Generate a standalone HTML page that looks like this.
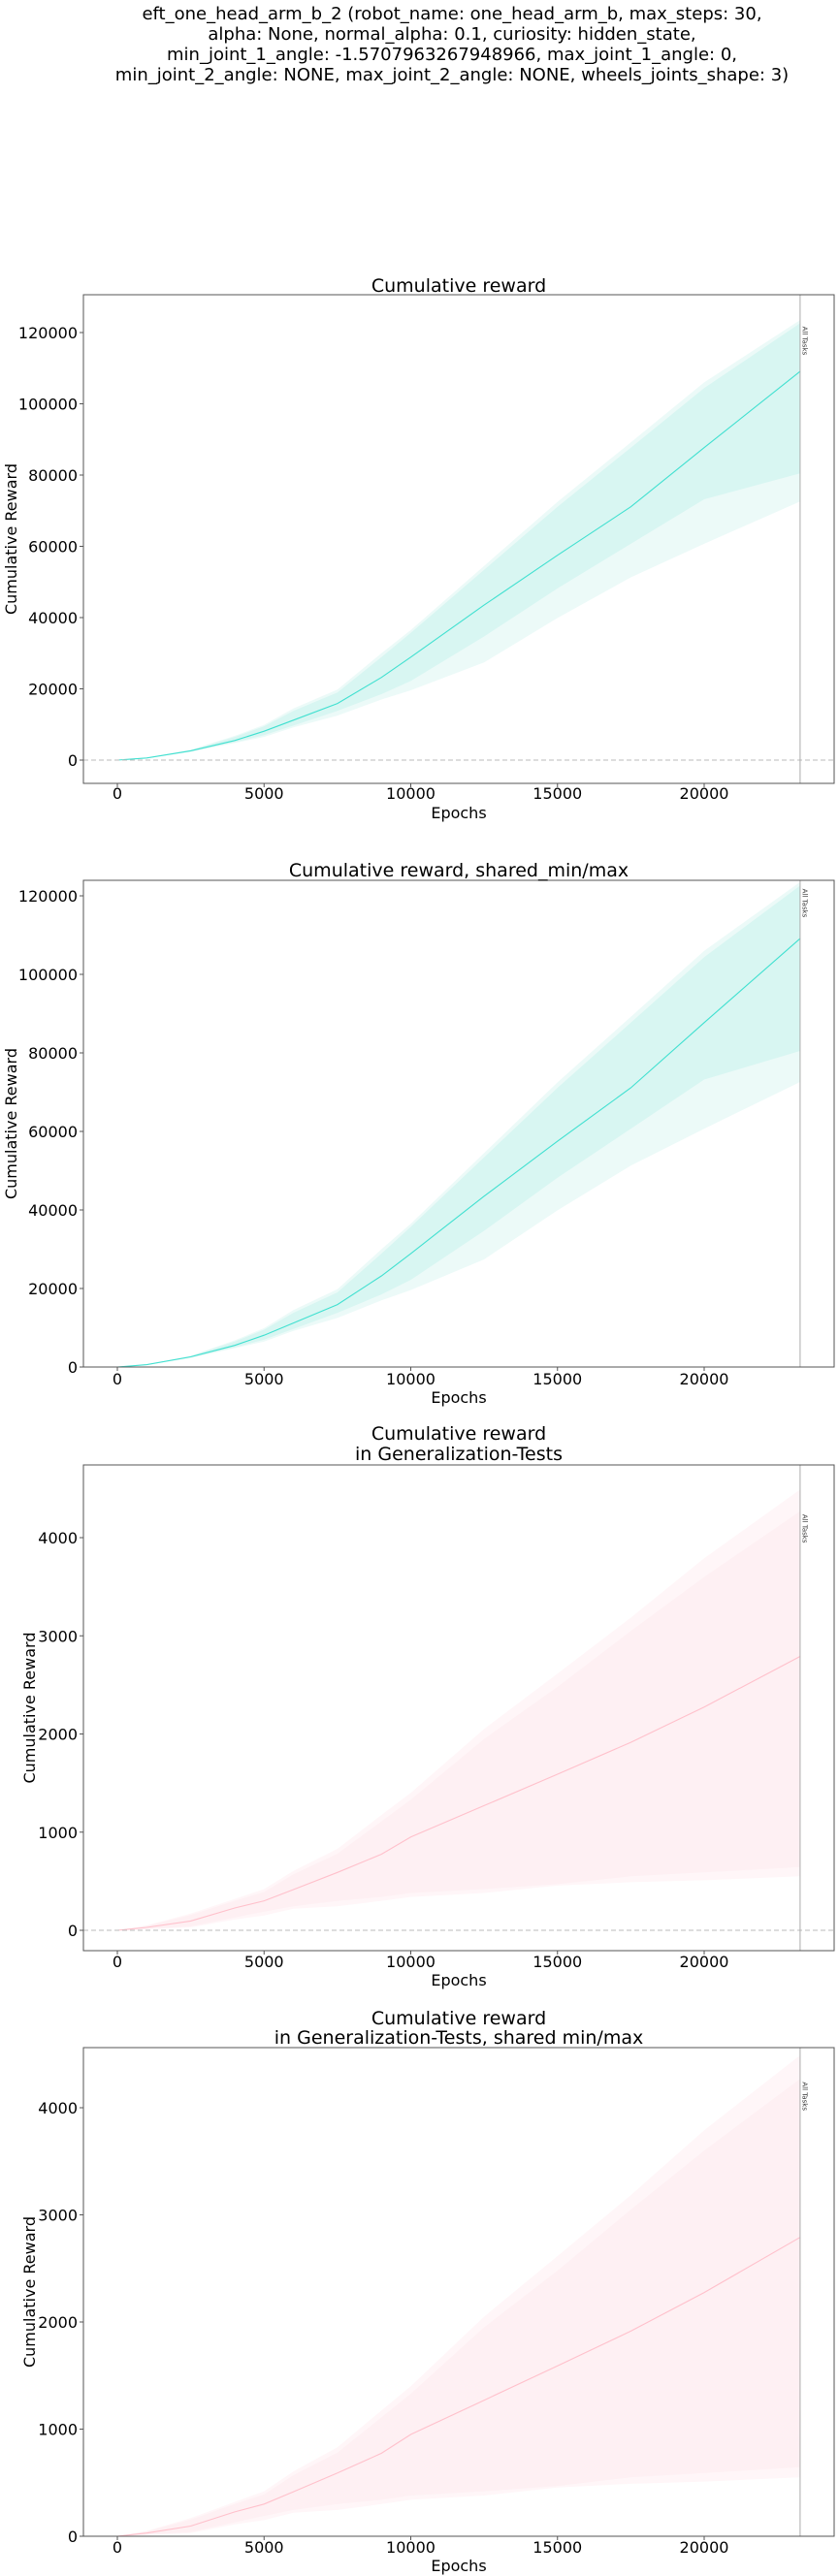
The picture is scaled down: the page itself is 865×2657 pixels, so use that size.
<!DOCTYPE html>
<html><head><meta charset="utf-8">
<style>
html,body{margin:0;padding:0;background:#fff;}
svg{display:block;font-family:"DejaVu Sans","Liberation Sans",sans-serif;}
</style></head>
<body>
<svg id="fig" width="865" height="2657" viewBox="0 0 865 2657" xmlns="http://www.w3.org/2000/svg">
<g font-size="18" text-anchor="middle" fill="#000">
<text x="466" y="20">eft_one_head_arm_b_2 (robot_name: one_head_arm_b, max_steps: 30,</text>
<text x="466" y="41">alpha: None, normal_alpha: 0.1, curiosity: hidden_state,</text>
<text x="466" y="62">min_joint_1_angle: -1.5707963267948966, max_joint_1_angle: 0,</text>
<text x="466" y="83">min_joint_2_angle: NONE, max_joint_2_angle: NONE, wheels_joints_shape: 3)</text>
</g>
</svg>
<script>
// ---- data ----
const epochs = [0, 1000, 2500, 4000, 5000, 6000, 7500, 9000, 10000, 12500, 15000, 17500, 20000, 23270];
const trainMean = [0, 600, 2600, 5500, 8100, 11200, 15900, 23200, 28900, 43500, 57500, 71100, 87700, 109100];
const trainInnerUpper = [0, 650, 2800, 6500, 9500, 13800, 19000, 28900, 35700, 53400, 71100, 87700, 104400, 122600];
const trainOuterUpper = [0, 700, 2900, 6800, 9900, 14500, 19800, 30000, 36500, 54500, 72500, 89200, 106000, 123500];
const trainInnerLower = [0, 550, 2400, 5000, 7000, 9700, 13800, 18500, 22200, 34700, 48200, 60700, 73200, 80500];
const trainOuterLower = [0, 500, 2300, 4800, 6500, 9200, 12500, 17000, 19600, 27400, 39900, 51300, 60700, 72600];
const genMean = [0, 30, 95, 227, 300, 415, 590, 775, 950, 1270, 1590, 1915, 2275, 2790];
const genInnerUpper = [0, 45, 155, 300, 390, 570, 780, 1110, 1330, 1950, 2480, 3050, 3600, 4270];
const genOuterUpper = [0, 50, 170, 320, 420, 605, 830, 1175, 1400, 2050, 2615, 3185, 3790, 4490];
const genInnerLower = [0, 15, 40, 130, 190, 245, 300, 340, 380, 420, 470, 550, 590, 645];
const genOuterLower = [0, 10, 30, 110, 150, 220, 245, 300, 340, 380, 455, 490, 510, 550];
const xTicks = [0, 5000, 10000, 15000, 20000];
const trainYTicks = [0, 20000, 40000, 60000, 80000, 100000, 120000];
const genYTicks = [0, 1000, 2000, 3000, 4000];
const markerEpoch = 23270;

const NS = "http://www.w3.org/2000/svg";
const svg = document.getElementById("fig");
function mk(tag, attrs, parent) {
  const e = document.createElementNS(NS, tag);
  for (const k in attrs) e.setAttribute(k, attrs[k]);
  (parent || svg).appendChild(e);
  return e;
}
const X0 = 86, X1 = 860;
function xScale(e) { return 121 + e * 605 / 20000; }

const panels = [
  {name:"cumulative-reward", titles:["Cumulative reward"], titleY:[301], top:304, bottom:808, zeroY:784, topVal:120000, topY:343,
   yTicks:trainYTicks, mean:trainMean, iu:trainInnerUpper, ou:trainOuterUpper, il:trainInnerLower, ol:trainOuterLower,
   line:"#40e0d0", inner:"#d8f6f2", outer:"#ecfaf8", dashed:true, ylabelX:11, tickY:824, epochsY:844},
  {name:"cumulative-reward-shared", titles:["Cumulative reward, shared_min/max"], titleY:[904], top:908, bottom:1410, zeroY:1410, topVal:120000, topY:924,
   yTicks:trainYTicks, mean:trainMean, iu:trainInnerUpper, ou:trainOuterUpper, il:trainInnerLower, ol:trainOuterLower,
   line:"#40e0d0", inner:"#d8f6f2", outer:"#ecfaf8", dashed:false, ylabelX:11, tickY:1428, epochsY:1447},
  {name:"generalization-reward", titles:["Cumulative reward","in Generalization-Tests"], titleY:[1485,1506], top:1511, bottom:2012, zeroY:1991, topVal:4000, topY:1586,
   yTicks:genYTicks, mean:genMean, iu:genInnerUpper, ou:genOuterUpper, il:genInnerLower, ol:genOuterLower,
   line:"#ffc0cb", inner:"#fef0f3", outer:"#fff6f8", dashed:true, ylabelX:30, tickY:2029, epochsY:2048},
  {name:"generalization-reward-shared", titles:["Cumulative reward","in Generalization-Tests, shared min/max"], titleY:[2088,2108], top:2112, bottom:2616, zeroY:2616, topVal:4000, topY:2174,
   yTicks:genYTicks, mean:genMean, iu:genInnerUpper, ou:genOuterUpper, il:genInnerLower, ol:genOuterLower,
   line:"#ffc0cb", inner:"#fef0f3", outer:"#fff6f8", dashed:false, ylabelX:30, tickY:2633, epochsY:2652}
];

panels.forEach(p => {
  const g = mk("g", {});
  
  
  const yScale = v => p.zeroY - v * (p.zeroY - p.topY) / p.topVal;
  function band(up, lo, fill, nm) {
    let d = "";
    epochs.forEach((e, i) => { d += (i ? "L" : "M") + xScale(e).toFixed(1) + "," + yScale(up[i]).toFixed(1); });
    for (let i = epochs.length - 1; i >= 0; i--) d += "L" + xScale(epochs[i]).toFixed(1) + "," + yScale(lo[i]).toFixed(1);
    const b = mk("path", {d: d + "Z", fill: fill}, g);
    
    
  }
  band(p.ou, p.ol, p.outer, 'outer-band');
  band(p.iu, p.il, p.inner, 'inner-band');
  let d = "";
  epochs.forEach((e, i) => { d += (i ? "L" : "M") + xScale(e).toFixed(1) + "," + yScale(p.mean[i]).toFixed(1); });
  const ln = mk("path", {d: d, fill: "none", stroke: p.line, "stroke-width": 1.1}, g);
  
  
  if (p.dashed) {
    const z = mk("line", {x1: X0, x2: X1, y1: yScale(0), y2: yScale(0), stroke: "#bbb", "stroke-dasharray": "5,3", "stroke-width": 1}, g);
    
    
  }
  const vx = xScale(markerEpoch);
  const vl = mk("line", {x1: vx, x2: vx, y1: p.top, y2: p.bottom, stroke: "#aaa", "stroke-width": 1}, g);
  
  
  const ty = yScale(p.iu[p.iu.length - 1]) + 10;
  const at = mk("text", {x: 0, y: 0, "font-size": 7, fill: "#333", "text-anchor": "middle", transform: "translate(" + (vx + 2.5) + "," + (ty + 8) + ") rotate(90)"}, g);
  at.textContent = "All Tasks";
  
  
  const fr = mk("rect", {x: X0, y: p.top, width: X1 - X0, height: p.bottom - p.top, fill: "none", stroke: "#555", "stroke-width": 1}, g);
  
  
  p.yTicks.forEach(v => {
    const y = yScale(v);
    mk("line", {x1: X0 - 4, x2: X0, y1: y, y2: y, stroke: "#555"}, g);
    const t = mk("text", {x: X0 - 6, y: y + 6, "font-size": 16, "text-anchor": "end"}, g);
    t.textContent = String(v);
    
    
  });
  xTicks.forEach(v => {
    const x = xScale(v);
    mk("line", {x1: x, x2: x, y1: p.bottom, y2: p.bottom + 4, stroke: "#555"}, g);
    const t = mk("text", {x: x, y: p.tickY, "font-size": 16, "text-anchor": "middle"}, g);
    t.textContent = String(v);
    
    
  });
  const xl = mk("text", {x: 473, y: p.epochsY, "font-size": 16, "text-anchor": "middle"}, g);
  xl.textContent = "Epochs";
  
  
  const cy = (p.top + p.bottom) / 2;
  const yl = mk("text", {x: 0, y: 0, "font-size": 16, "text-anchor": "middle", transform: "translate(" + (p.ylabelX + 6) + "," + cy + ") rotate(-90)"}, g);
  yl.textContent = "Cumulative Reward";
  
  
  p.titles.forEach((s, i) => {
    const t = mk("text", {x: 473, y: p.titleY[i], "font-size": 19, "text-anchor": "middle"}, g);
    t.textContent = s;
    
    
  });
});
</script>
</body></html>
